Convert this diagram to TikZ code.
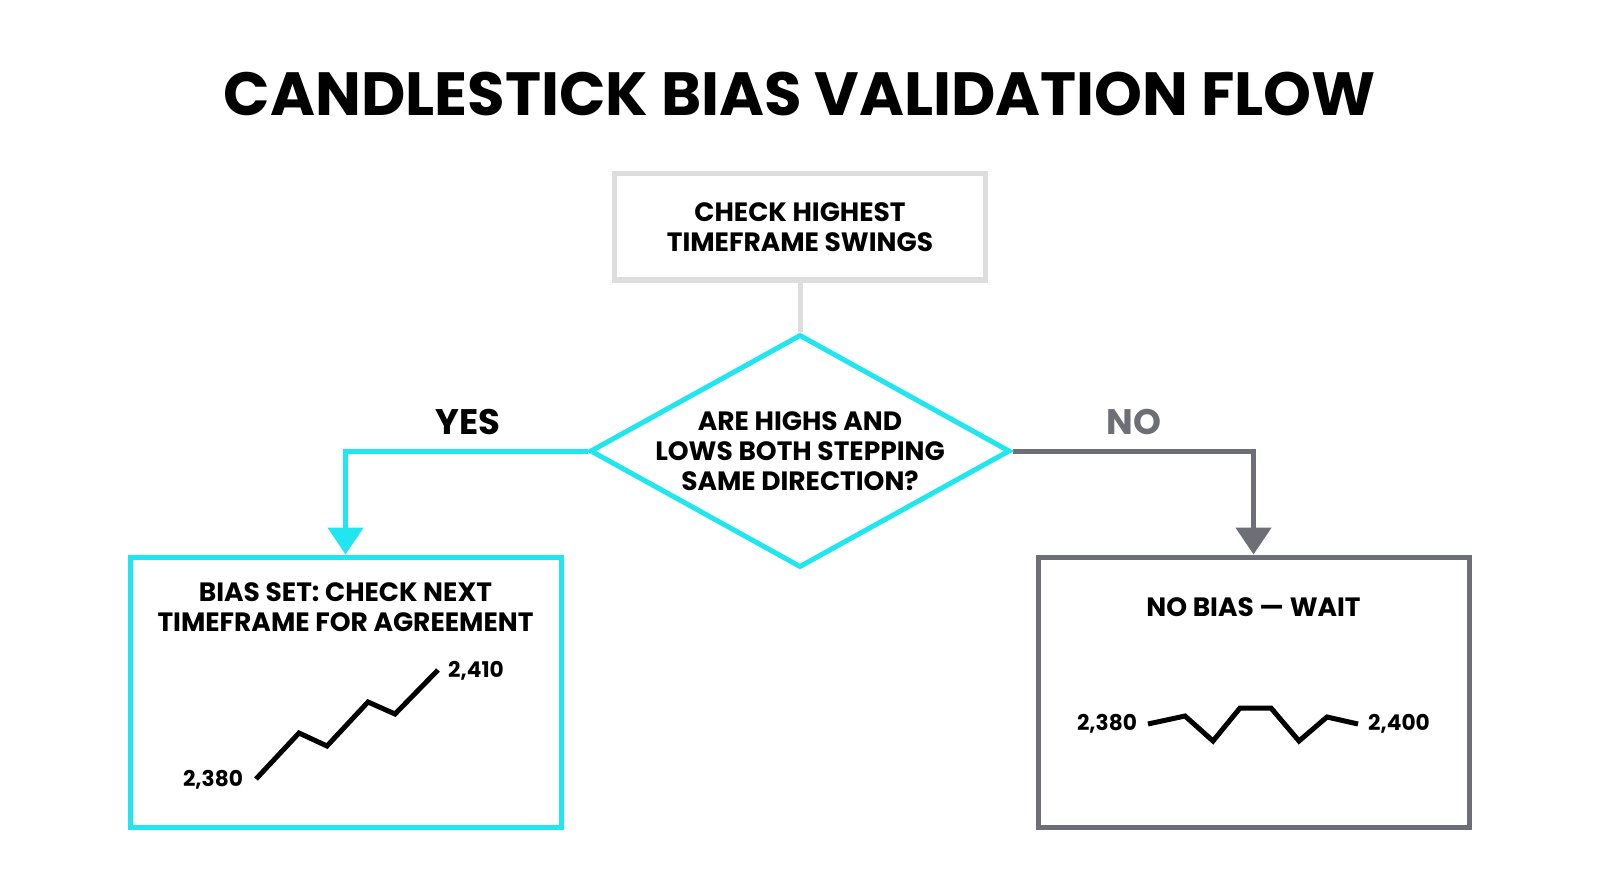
\documentclass[tikz,border=0pt]{standalone}
\usepackage{fontspec}
\setmainfont{Poppins}
\usetikzlibrary{shapes.geometric,arrows.meta,backgrounds}
\definecolor{cyanline}{HTML}{22E6EF}
\definecolor{darkgray}{HTML}{6E6F76}
\definecolor{lightgray}{HTML}{DDDDDD}
\begin{document}
\begin{tikzpicture}[x=1pt,y=-1pt,
  every node/.style={font=\bfseries, text=black},
  boxstyle/.style={draw, line width=5pt, rectangle, inner sep=0pt},
  boxtext/.style={font=\bfseries\fontsize{26.5}{30}\selectfont, align=center},
  valtext/.style={font=\bfseries\fontsize{21.7}{24}\selectfont},
  chartline/.style={line width=5pt, line join=miter, black},
  yesarrow/.style={line width=5pt, cyanline, -{Triangle[width=35pt,length=27pt]}},
  noarrow/.style={line width=5pt, darkgray, -{Triangle[width=35pt,length=27pt]}},
]
\useasboundingbox (0,0) rectangle (1600,893);

\node (title) at (800,94) {\fontsize{61}{70}\selectfont CANDLESTICK BIAS VALIDATION FLOW};

\node[boxstyle, draw=lightgray, minimum width=371pt, minimum height=106pt] (top) at (800,227) {};
\node[boxtext] (toptext) at (800,227) {CHECK HIGHEST\\TIMEFRAME SWINGS};

\node[draw=cyanline, line width=5pt, shape=diamond, inner sep=0pt, minimum width=420pt, minimum height=233pt] (dec) at (800,451) {};
\node[boxtext] (dectext) at (800,451) {ARE HIGHS AND\\LOWS BOTH STEPPING\\SAME DIRECTION?};

\node[boxstyle, draw=cyanline, minimum width=431pt, minimum height=270pt] (lbox) at (345.5,692) {};
\node[boxtext] (ltext) at (345.5,607) {BIAS SET: CHECK NEXT\\TIMEFRAME FOR AGREEMENT};

\node[boxstyle, draw=darkgray, minimum width=431pt, minimum height=270pt] (rbox) at (1253.5,692) {};
\node[boxtext] (rtext) at (1253.5,607) {NO BIAS — WAIT};

\node[font=\bfseries\fontsize{35.5}{40}\selectfont] (yes) at (468,422) {YES};
\node[font=\bfseries\fontsize{35.5}{40}\selectfont, text=darkgray] (no) at (1134,422) {NO};

\begin{scope}[on background layer]
  \fill[white] (0,0) rectangle (1600,893);
  \draw[line width=5pt, lightgray] (top.south) -- (dec.north);
  \draw[yesarrow] (dec.west) -| (lbox.north);
  \draw[noarrow] (dec.east) -| (rbox.north);
\end{scope}

% left chart
\draw[chartline] (256,779) -- (299,733) -- (327,746) -- (368,702) -- (395,714) -- (438,670);
\node[valtext] (l380) at (213,780) {2,380};
\node[valtext] (l410) at (476,671) {2,410};

% right chart
\draw[chartline] (1148,724) -- (1185,716) -- (1213,741) -- (1240,708) -- (1271,708) -- (1299,741) -- (1327,717) -- (1358,724);
\node[valtext] (r380) at (1107,724) {2,380};
\node[valtext] (r400) at (1399,724) {2,400};
\end{tikzpicture}
\end{document}
